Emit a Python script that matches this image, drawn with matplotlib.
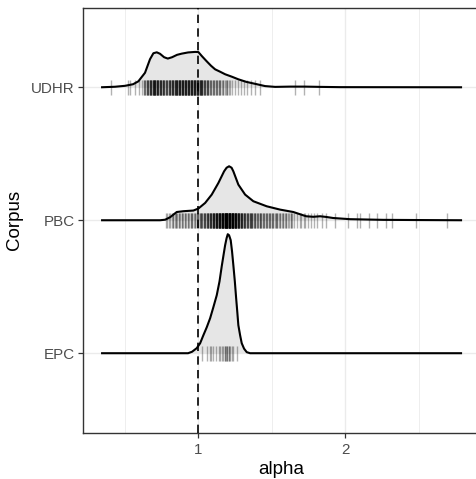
import numpy as np
import matplotlib
import matplotlib.pyplot as plt
matplotlib.use('Agg')

plt.rcParams['font.family'] = ['Liberation Sans', 'DejaVu Sans']

# ridge order, bottom to top
corpora = ['EPC', 'PBC', 'UDHR']

# density outlines (height in units of row spacing)
epc_x = [0.340, 0.932, 0.959, 0.991, 1.014, 1.036, 1.059, 1.082, 1.104, 1.127,
         1.146, 1.161, 1.173, 1.184, 1.194, 1.202, 1.211, 1.222, 1.231, 1.240,
         1.250, 1.259, 1.267, 1.274, 1.286, 1.297, 1.313, 1.331, 1.354, 2.796]
epc_h = [0, 0, 0.011, 0.038, 0.075, 0.135, 0.195, 0.263, 0.346, 0.436,
         0.541, 0.654, 0.737, 0.812, 0.865, 0.895, 0.887, 0.850, 0.767, 0.662,
         0.541, 0.414, 0.308, 0.211, 0.135, 0.075, 0.034, 0.008, 0, 0]

pbc_x = [0.340, 0.741, 0.776, 0.810, 0.855, 0.900, 0.968, 1.002, 1.048, 1.093,
         1.138, 1.177, 1.194, 1.211, 1.228, 1.240, 1.274, 1.320, 1.376, 1.467,
         1.558, 1.648, 1.694, 1.735, 1.784, 1.830, 1.871, 1.918, 2.034, 2.259,
         2.510, 2.796]
pbc_h = [0, 0, 0.004, 0.023, 0.062, 0.068, 0.073, 0.088, 0.130, 0.193,
         0.280, 0.368, 0.395, 0.406, 0.395, 0.368, 0.268, 0.193, 0.143, 0.105,
         0.080, 0.062, 0.045, 0.030, 0.026, 0.030, 0.025, 0.017, 0.008, 0.003,
         0.0015, 0]

udhr_x = [0.340, 0.435, 0.503, 0.558, 0.594, 0.639, 0.673, 0.696, 0.719, 0.741,
          0.769, 0.794, 0.823, 0.857, 0.889, 0.932, 0.980, 1.002, 1.027, 1.059,
          1.088, 1.116, 1.150, 1.184, 1.231, 1.274, 1.327, 1.388, 1.456, 1.524,
          1.626, 1.728, 1.830, 1.966, 2.796]
udhr_h = [0, 0.004, 0.011, 0.023, 0.045, 0.109, 0.211, 0.256, 0.263, 0.252,
          0.226, 0.216, 0.226, 0.244, 0.253, 0.262, 0.266, 0.265, 0.233, 0.195,
          0.162, 0.135, 0.117, 0.098, 0.079, 0.060, 0.041, 0.026, 0.009, 0.003,
          0.005, 0.005, 0.003, 0.001, 0]

# observed alpha values (value, how many languages share it)
epc_vals = [1.025, 1.06, 1.08, 1.09, 1.10, 1.12, 1.14, 1.15, 1.16, 1.17, 1.18,
            1.19, 1.20, 1.21, 1.22, 1.23, 1.24, 1.265]
epc_cnt = [1, 1, 1, 1, 1, 1, 1, 1, 1, 1, 2, 1, 2, 2, 1, 1, 1, 1]

pbc_vals = [0.78, 0.79, 0.80, 0.81, 0.82, 0.83, 0.84, 0.85, 0.86, 0.87, 0.88,
            0.89, 0.90, 0.91, 0.92, 0.93, 0.94, 0.95, 0.96, 0.97, 0.98, 0.99,
            1.00, 1.01, 1.02, 1.03, 1.04, 1.05, 1.06, 1.07, 1.08, 1.09, 1.10,
            1.11, 1.12, 1.13, 1.14, 1.15, 1.16, 1.17, 1.18, 1.19, 1.20, 1.21,
            1.22, 1.23, 1.24, 1.25, 1.26, 1.27, 1.28, 1.29, 1.30, 1.31, 1.32,
            1.33, 1.34, 1.35, 1.36, 1.37, 1.38, 1.39, 1.40, 1.41, 1.42, 1.43,
            1.44, 1.45, 1.46, 1.47, 1.48, 1.49, 1.50, 1.51, 1.52, 1.53, 1.54,
            1.55, 1.56, 1.57, 1.58, 1.59, 1.60, 1.61, 1.62, 1.63, 1.64, 1.65,
            1.67, 1.69, 1.70, 1.72, 1.73, 1.75, 1.77, 1.79, 1.81, 1.84, 1.87,
            1.93, 2.02, 2.08, 2.10, 2.16, 2.22, 2.28, 2.32, 2.48, 2.69]
pbc_cnt = [1, 1, 1, 1, 1, 2, 1, 2, 1, 2, 1,
           2, 1, 2, 1, 2, 1, 2, 2, 1, 2, 2,
           2, 2, 3, 2, 3, 3, 3, 4, 4, 4, 5,
           5, 6, 6, 7, 7, 8, 8, 9, 9, 10, 10,
           10, 9, 9, 8, 7, 6, 5, 5, 4, 4, 3,
           3, 3, 3, 3, 3, 2, 3, 2, 2, 3, 2,
           2, 2, 2, 2, 2, 2, 2, 2, 1, 2, 2,
           1, 2, 1, 2, 1, 2, 1, 1, 2, 1, 1,
           1, 1, 1, 1, 1, 1, 1, 1, 1, 1, 1,
           1, 1, 1, 1, 1, 1, 1, 1, 1, 1]

udhr_vals = [0.41, 0.52, 0.54, 0.57, 0.60, 0.62, 0.63, 0.64, 0.65, 0.66, 0.67,
             0.68, 0.69, 0.70, 0.71, 0.72, 0.73, 0.74, 0.75, 0.76, 0.77, 0.78,
             0.79, 0.80, 0.81, 0.82, 0.83, 0.84, 0.85, 0.86, 0.87, 0.88, 0.89,
             0.90, 0.91, 0.92, 0.93, 0.94, 0.95, 0.96, 0.97, 0.98, 0.99, 1.00,
             1.01, 1.02, 1.03, 1.04, 1.05, 1.06, 1.07, 1.08, 1.09, 1.10, 1.11,
             1.12, 1.13, 1.14, 1.15, 1.16, 1.17, 1.18, 1.19, 1.20, 1.21, 1.22,
             1.23, 1.25, 1.27, 1.29, 1.31, 1.33, 1.36, 1.39, 1.42, 1.66, 1.72,
             1.82]
udhr_cnt = [1, 1, 1, 1, 1, 1, 2, 2, 3, 3, 4,
            4, 4, 5, 5, 5, 4, 4, 4, 4, 3, 3,
            3, 3, 4, 4, 4, 4, 4, 5, 5, 5, 5,
            5, 5, 5, 5, 5, 5, 5, 5, 5, 5, 5,
            4, 4, 4, 3, 3, 3, 3, 2, 2, 2, 2,
            2, 2, 2, 2, 1, 2, 1, 1, 2, 1, 1,
            1, 1, 1, 1, 1, 1, 1, 1, 1, 1, 1,
            1]

curves = [(epc_x, epc_h), (pbc_x, pbc_h), (udhr_x, udhr_h)]
rugs = [(epc_vals, epc_cnt), (pbc_vals, pbc_cnt), (udhr_vals, udhr_cnt)]

fig = plt.figure(figsize=(4.77, 4.79), dpi=100)
# x range: data span plus 5% each side, like ggplot
xmin, xmax = 0.340, 2.796
pad = 0.05 * (xmax - xmin)
x_lo, x_hi = xmin - pad, xmax + pad
px_per_unit = 147.0
ax = fig.add_axes([83 / 477, 46 / 479, (x_hi - x_lo) * px_per_unit / 477, 425.5 / 479])

for i, ((cx, ch), (rv, rc)) in enumerate(zip(curves, rugs)):
    base = i + 1
    cx = np.array(cx)
    top = base + np.array(ch)
    ax.fill_between(cx, base, top, color='#E6E6E6', lw=0, zorder=2)
    pts = np.repeat(rv, rc)
    ax.plot(pts, np.full(len(pts), base), ls='none', marker='|', ms=10.8, mew=1.0,
            color='black', alpha=0.3, zorder=3)
    ax.plot(cx, top, color='black', lw=1.5, zorder=4, solid_capstyle='butt')

ax.axvline(1, color='black', lw=1.2, ls=(0, (5, 3.2)), zorder=5)

ax.set_xlim(x_lo, x_hi)
ax.set_ylim(0.4, 3.6)
ax.set_xticks([1, 2])
ax.set_xticklabels(['1', '2'])
ax.set_xticks([0.5, 1.5, 2.5], minor=True)
ax.set_yticks([1, 2, 3])
ax.set_yticklabels(corpora)

ax.grid(which='major', color='#EBEBEB', lw=1.0, zorder=0)
ax.grid(which='minor', axis='x', color='#EBEBEB', lw=0.6, zorder=0)
ax.set_axisbelow(True)
ax.tick_params(which='minor', length=0)
ax.tick_params(which='major', length=3.4, width=0.9, color='#333333',
               labelcolor='#4D4D4D', labelsize=10.9, pad=2.5)
ax.tick_params(axis='x', pad=3.5)
for s in ax.spines.values():
    s.set_color('#333333')
    s.set_linewidth(1.0)

fig.text(281.5 / 477, 1 - 470 / 479, 'alpha', ha='center', va='center', fontsize=13.5)
fig.text(15 / 477, 1 - 220 / 479, 'Corpus', ha='center', va='center', rotation=90,
         fontsize=13.5)

fig.savefig('out.png', dpi=100)
